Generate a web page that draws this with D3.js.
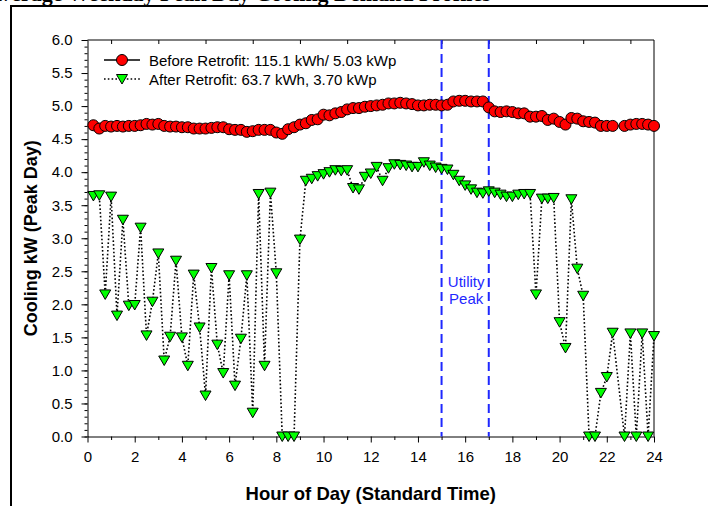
<!DOCTYPE html>
<html>
<head>
<meta charset="utf-8">
<script src="https://cdn.jsdelivr.net/npm/d3@7"></script>
<style>
  body { margin: 0; background: #fff; }
  svg { display: block; }
  text { font-family: "Liberation Sans", Arial, sans-serif; }
</style>
</head>
<body>
<script>
// 15-minute readings, 22.5 h is missing in the source data
var hours = [0.25,0.5,0.75,1,1.25,1.5,1.75,2,2.25,2.5,2.75,3,
             3.25,3.5,3.75,4,4.25,4.5,4.75,5,5.25,5.5,5.75,6,
             6.25,6.5,6.75,7,7.25,7.5,7.75,8,8.25,8.5,8.75,9,
             9.25,9.5,9.75,10,10.25,10.5,10.75,11,11.25,11.5,11.75,12,
             12.25,12.5,12.75,13,13.25,13.5,13.75,14,14.25,14.5,14.75,15,
             15.25,15.5,15.75,16,16.25,16.5,16.75,17,17.25,17.5,17.75,18,
             18.25,18.5,18.75,19,19.25,19.5,19.75,20,20.25,20.5,20.75,21,
             21.25,21.5,21.75,22,22.25,
             22.75,23,23.25,23.5,23.75,24];

var beforeKw = [4.71,4.66,4.70,4.69,4.70,4.69,4.70,4.70,4.71,4.73,4.72,4.73,
                4.70,4.69,4.69,4.68,4.68,4.66,4.66,4.66,4.67,4.68,4.68,4.65,
                4.64,4.64,4.61,4.62,4.64,4.64,4.64,4.60,4.58,4.65,4.68,4.72,
                4.74,4.79,4.80,4.87,4.86,4.89,4.91,4.95,4.97,4.97,4.99,5.00,
                5.01,5.02,5.04,5.04,5.05,5.04,5.03,5.01,5.01,5.02,5.02,5.01,
                5.02,5.07,5.08,5.08,5.07,5.07,5.07,4.98,4.92,4.91,4.92,4.91,
                4.89,4.89,4.84,4.84,4.85,4.79,4.81,4.76,4.72,4.82,4.81,4.77,
                4.76,4.75,4.70,4.70,4.70,
                4.70,4.72,4.73,4.73,4.72,4.70];

var afterKw = [3.64,3.65,2.15,3.63,1.83,3.28,1.98,1.99,3.16,1.53,2.04,2.77,
               1.15,1.51,2.66,1.50,1.07,2.45,1.65,0.62,2.55,1.39,0.96,2.44,
               0.77,1.48,2.44,0.36,3.67,1.07,3.69,2.47,0,0,0,2.98,
               3.87,3.90,3.94,3.97,4.00,4.03,4.02,4.03,3.76,3.74,3.93,3.98,
               4.08,3.87,4.06,4.12,4.11,4.10,4.08,4.08,4.15,4.10,4.07,4.05,
               4.04,3.96,3.87,3.80,3.74,3.69,3.68,3.71,3.69,3.66,3.63,3.63,
               3.66,3.67,3.67,2.15,3.60,3.60,3.61,1.73,1.34,3.59,2.54,2.13,
               0,0,0.66,0.90,1.57,
               0,1.56,0,1.56,0,1.52];

var xMajor = [0,2,4,6,8,10,12,14,16,18,20,22,24];
var xMinor = [1,3,5,7,9,11,13,15,17,19,21,23];
var yMajor = [0,0.5,1,1.5,2,2.5,3,3.5,4,4.5,5,5.5,6];
var peakHours = [15, 17];
var legendLabels = ['Before Retrofit:  115.1 kWh/ 5.03 kWp', 'After Retrofit: 63.7 kWh, 3.70 kWp'];

var width = 708, height = 506;
var svg = d3.select('body').append('svg')
    .attr('width', width)
    .attr('height', height);

// page title, mostly cut off by the top of the picture
svg.append('text')
    .attr('x', -14)
    .attr('y', 1)
    .style('font-family', '"Liberation Serif", "Times New Roman", serif')
    .style('font-weight', 'bold')
    .style('font-size', '22px')
    .text('Average Weekday Peak Day Cooling Demand Profiles');

// outer frame
svg.append('path')
    .attr('d', 'M11,506 V6 H708')
    .attr('fill', 'none')
    .attr('stroke', '#000')
    .attr('stroke-width', 2);

var x = d3.scaleLinear().domain([0, 24]).range([87.5, 654]);
var y = d3.scaleLinear().domain([0, 6]).range([436.5, 40]);

// top and right border
svg.append('path')
    .attr('d', 'M' + x(0) + ',' + y(6) + 'H' + x(24) + 'V' + y(0))
    .attr('fill', 'none')
    .attr('stroke', '#000')
    .attr('stroke-width', 1);

svg.append('g')
    .attr('transform', 'translate(0,' + y(6) + ')')
    .call(d3.axisTop(x).tickValues(xMinor).tickSize(-4).tickFormat(''))
    .call(g => g.select('.domain').remove());

// bottom axis
var gx = svg.append('g')
    .attr('transform', 'translate(0,' + y(0) + ')');
gx.call(d3.axisBottom(x).tickValues(xMinor).tickSize(3.5).tickSizeOuter(0).tickFormat(''));
gx.append('g').call(d3.axisBottom(x).tickValues(xMajor).tickSize(6).tickPadding(9).tickFormat(d3.format('d')))
    .call(g => g.select('.domain').remove());

// left axis
var yMinor = d3.range(0, 61).map(d => d / 10);
var gy = svg.append('g')
    .attr('transform', 'translate(' + x(0) + ',0)');
gy.call(d3.axisLeft(y).tickValues(yMinor).tickSize(3).tickSizeOuter(0).tickFormat(''));
gy.append('g').call(d3.axisLeft(y).tickValues(yMajor).tickSize(6).tickPadding(9).tickFormat(d3.format('.1f')))
    .call(g => g.select('.domain').remove());

svg.selectAll('.tick text')
    .style('font-size', '15px')
    .attr('fill', '#000');
svg.selectAll('.domain, .tick line').attr('stroke', '#000');

// utility peak window
svg.selectAll('.peak')
    .data(peakHours)
    .enter().append('line')
    .attr('class', 'peak')
    .attr('x1', d => x(d)).attr('x2', d => x(d))
    .attr('y1', y(6)).attr('y2', y(0))
    .attr('stroke', '#1e28ff')
    .attr('stroke-width', 2)
    .attr('stroke-dasharray', '9,5');

var peakText = svg.append('text')
    .attr('x', x(16) + 1)
    .attr('y', 287)
    .attr('text-anchor', 'middle')
    .attr('fill', '#1e28ff')
    .style('font-size', '15px');
peakText.append('tspan').attr('x', x(16) + 1).text('Utility');
peakText.append('tspan').attr('x', x(16) + 1).attr('dy', 16.5).text('Peak');

var line = d3.line()
    .x((d, i) => x(hours[i]))
    .y(d => y(d));

function triangle(cx, cy) {
  return 'M' + (cx - 5.5) + ',' + (cy - 4.5) + 'H' + (cx + 5.5) + 'L' + cx + ',' + (cy + 5) + 'Z';
}

// before retrofit
svg.append('path')
    .attr('d', line(beforeKw))
    .attr('fill', 'none')
    .attr('stroke', '#000')
    .attr('stroke-width', 1);
svg.append('g').selectAll('circle')
    .data(beforeKw)
    .enter().append('circle')
    .attr('cx', (d, i) => x(hours[i]))
    .attr('cy', d => y(d))
    .attr('r', 5.5)
    .attr('fill', '#ff0000')
    .attr('stroke', '#000')
    .attr('stroke-width', 1);

// after retrofit
svg.append('path')
    .attr('d', line(afterKw))
    .attr('fill', 'none')
    .attr('stroke', '#000')
    .attr('stroke-width', 1.6)
    .attr('stroke-dasharray', '1.6,2.2');
svg.append('g').selectAll('path')
    .data(afterKw)
    .enter().append('path')
    .attr('d', (d, i) => triangle(x(hours[i]), y(d)))
    .attr('fill', '#00ff00')
    .attr('stroke', '#000')
    .attr('stroke-width', 1);

// legend
var lg = svg.append('g');
lg.append('line')
    .attr('x1', 104).attr('x2', 140).attr('y1', 60).attr('y2', 60)
    .attr('stroke', '#000').attr('stroke-width', 1.5);
lg.append('circle')
    .attr('cx', 122).attr('cy', 60).attr('r', 5.5)
    .attr('fill', '#ff0000').attr('stroke', '#000');
lg.append('line')
    .attr('x1', 104).attr('x2', 140).attr('y1', 79).attr('y2', 79)
    .attr('stroke', '#000').attr('stroke-width', 1.6)
    .attr('stroke-dasharray', '1.6,2.2');
lg.append('path')
    .attr('d', triangle(122, 79))
    .attr('fill', '#00ff00').attr('stroke', '#000');
lg.selectAll('text')
    .data(legendLabels)
    .enter().append('text')
    .attr('x', 149)
    .attr('y', (d, i) => 65.5 + i * 19)
    .style('font-size', '15px')
    .text(d => d);

// axis titles
svg.append('text')
    .attr('x', x(12))
    .attr('y', 500)
    .attr('text-anchor', 'middle')
    .style('font-size', '18.5px')
    .style('font-weight', 'bold')
    .text('Hour of Day (Standard Time)');

svg.append('text')
    .attr('transform', 'translate(37,' + y(3) + ') rotate(-90)')
    .attr('text-anchor', 'middle')
    .style('font-size', '18px')
    .style('font-weight', 'bold')
    .text('Cooling kW (Peak Day)');
</script>
</body>
</html>
